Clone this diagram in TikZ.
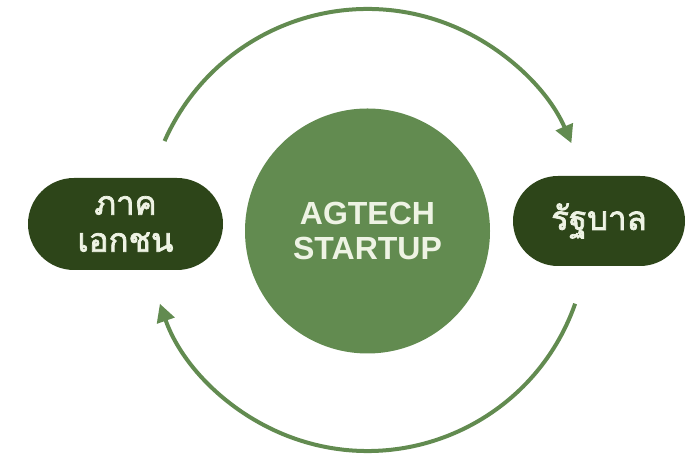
\documentclass[tikz,border=0pt]{standalone}
\usepackage{fontspec}
\setmainfont{Liberation Sans}
\newfontfamily\thaifont[Script=Thai,FakeBold=2.2]{Loma}
\usetikzlibrary{arrows.meta,shapes.misc,calc}
\definecolor{darkg}{HTML}{2D4519}
\definecolor{midg}{HTML}{628B50}
\definecolor{paleg}{HTML}{EEF3E4}
\tikzset{
  pill/.style={rounded rectangle, fill=darkg, text=paleg, align=center, inner sep=0pt,
    font=\thaifont\fontsize{33}{37}\selectfont},
  hub/.style={circle, fill=midg, text=paleg, align=center, inner sep=0pt,
    minimum size=245pt, font=\bfseries\fontsize{32}{35}\selectfont},
  cyc/.style={draw=midg, line width=4pt, -{Triangle[length=18pt,width=18pt]}}
}
\begin{document}
\begin{tikzpicture}[x=1pt,y=1pt]
\useasboundingbox (0,0) rectangle (697,454);
\node[hub] (c) at (367.5,223) {AGTECH\\STARTUP};
\node[pill, minimum width=195pt, minimum height=92pt] (l) at (125.5,230) {ภาค\\เอกชน};
\node[pill, minimum width=172pt, minimum height=90pt] (r) at (599,233) {รัฐบาล};
\coordinate (o) at (367.5,223);
\coordinate (ts) at ($(o)+(156.1:222)$);
\coordinate (bs) at ($(o)+(-19.3:220)$);
\draw[cyc] (ts) arc[start angle=156.1, end angle=23.3, radius=222];
\draw[cyc] (bs) arc[start angle=-19.3, end angle=-160.7, radius=220];
\end{tikzpicture}
\end{document}
